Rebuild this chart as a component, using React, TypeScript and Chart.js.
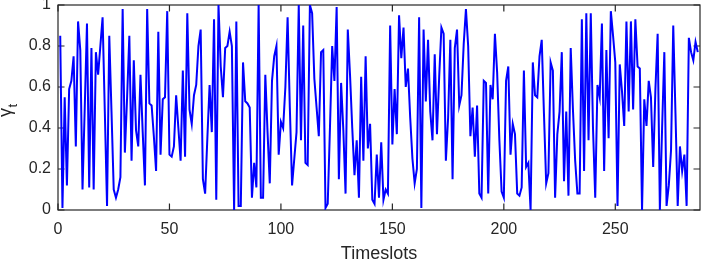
import React, { useEffect, useRef } from "react";
import { Chart, registerables } from "chart.js";

Chart.register(...registerables);

// gamma_t value per timeslot (timeslots 1..287)
const gammaT: number[] = [
  0.85, 0.01, 0.55, 0.12, 0.59, 0.63, 0.75, 0.31, 0.92, 0.78,
  0.10, 0.50, 0.91, 0.11, 0.79, 0.10, 0.77, 0.66, 0.80, 0.94,
  0.48, 0.02, 0.85, 0.48, 0.10, 0.06, 0.10, 0.16, 0.98, 0.28,
  0.55, 0.85, 0.24, 0.73, 0.39, 0.31, 0.66, 0.38, 0.12, 0.98,
  0.52, 0.51, 0.36, 0.19, 0.87, 0.27, 0.54, 0.55, 0.97, 0.27,
  0.26, 0.31, 0.56, 0.40, 0.24, 0.68, 0.26, 0.96, 0.49, 0.42,
  0.56, 0.61, 0.80, 0.88, 0.15, 0.08, 0.35, 0.61, 0.38, 0.93,
  0.05, 1.00, 0.70, 0.55, 0.79, 0.80, 0.87, 0.80, 0.00, 0.92,
  0.02, 0.02, 0.72, 0.53, 0.52, 0.50, 0.06, 0.23, 0.11, 1.00,
  0.06, 0.06, 0.66, 0.38, 0.13, 0.63, 0.75, 0.80, 0.27, 0.43,
  0.40, 0.60, 0.94, 0.50, 0.12, 0.25, 0.38, 1.00, 0.34, 0.90,
  0.23, 0.22, 1.00, 0.96, 0.64, 0.50, 0.36, 0.77, 0.78, 0.01,
  0.03, 0.40, 0.80, 0.63, 0.99, 0.15, 0.62, 0.39, 0.08, 0.88,
  0.66, 0.40, 0.17, 0.34, 0.06, 0.65, 0.24, 0.75, 0.30, 0.42,
  0.05, 0.03, 0.27, 0.06, 0.33, 0.05, 0.10, 0.08, 0.90, 0.32,
  0.59, 0.37, 0.95, 0.74, 0.89, 0.60, 0.69, 0.45, 0.25, 0.13,
  0.20, 0.94, 0.01, 0.88, 0.53, 0.83, 0.48, 0.34, 0.76, 0.37,
  0.65, 0.89, 0.86, 0.24, 0.45, 0.83, 0.15, 0.79, 0.88, 0.51,
  0.56, 0.81, 0.98, 0.80, 0.36, 0.50, 0.26, 0.51, 0.08, 0.06,
  0.63, 0.62, 0.08, 0.61, 0.54, 0.86, 0.67, 0.34, 0.09, 0.06,
  0.63, 0.70, 0.27, 0.42, 0.37, 0.08, 0.07, 0.11, 0.68, 0.21,
  0.23, 0.00, 0.72, 0.56, 0.55, 0.75, 0.83, 0.47, 0.13, 0.18,
  0.72, 0.68, 0.06, 0.37, 0.48, 0.77, 0.14, 0.48, 0.07, 0.79,
  0.49, 0.24, 0.08, 0.08, 0.93, 0.19, 0.96, 0.34, 0.96, 0.40,
  0.06, 0.61, 0.55, 0.91, 0.19, 0.78, 0.35, 0.97, 0.85, 0.72,
  0.02, 0.71, 0.58, 0.41, 0.92, 0.48, 0.92, 0.49, 0.93, 0.70,
  0.69, 0.00, 0.54, 0.41, 0.63, 0.55, 0.21, 0.59, 0.86, 0.00,
  0.40, 0.77, 0.02, 0.12, 0.29, 0.90, 0.47, 0.02, 0.31, 0.19,
  0.27, 0.02, 0.84, 0.77, 0.73, 0.82, 0.77,
];

const timeslots: number[] = gammaT.map((_, i) => i + 1);
const xTicks: number[] = [0, 50, 100, 150, 200, 250];
const yTicks: number[] = [0, 0.2, 0.4, 0.6, 0.8, 1];
const xRange: number[] = [0, 288];
const yRange: number[] = [0, 1];
const xLabel = "Timeslots";
const yLabelMain = "γ";
const yLabelSub = "t";

const FONT = "'Liberation Sans', Arial, Helvetica, sans-serif";
const AXIS_COLOR = "#262626";

const fmt = (v: any) => String(Math.round(Number(v) * 10) / 10);

const matlabAxes = {
  id: "matlabAxes",
  beforeDatasetsDraw(chart: any) {
    const { ctx, chartArea, scales } = chart;
    const { left, right, top, bottom } = chartArea;
    const L = 6.5;
    ctx.save();
    ctx.strokeStyle = AXIS_COLOR;
    ctx.lineWidth = 1.2;
    ctx.strokeRect(left, top, right - left, bottom - top);
    ctx.beginPath();
    xTicks.forEach((v) => {
      const px = scales.x.getPixelForValue(v);
      ctx.moveTo(px, bottom);
      ctx.lineTo(px, bottom - L);
      ctx.moveTo(px, top);
      ctx.lineTo(px, top + L);
    });
    yTicks.forEach((v) => {
      const py = scales.y.getPixelForValue(v);
      ctx.moveTo(left, py);
      ctx.lineTo(left + L, py);
      ctx.moveTo(right, py);
      ctx.lineTo(right - L, py);
    });
    ctx.stroke();
    ctx.restore();
  },
  afterDraw(chart: any) {
    const { ctx } = chart;
    ctx.save();
    ctx.fillStyle = AXIS_COLOR;
    ctx.translate(11, 117);
    ctx.rotate(-Math.PI / 2);
    ctx.textAlign = "left";
    ctx.textBaseline = "alphabetic";
    ctx.font = `18px ${FONT}`;
    ctx.fillText(yLabelMain, 0, 0);
    const w = ctx.measureText(yLabelMain).width;
    ctx.font = `13px ${FONT}`;
    ctx.fillText(yLabelSub, w + 0.5, 6);
    ctx.restore();
  },
};

export default function App() {
  const canvasRef = useRef<HTMLCanvasElement | null>(null);

  useEffect(() => {
    const canvas = canvasRef.current;
    if (!canvas) return;
    const chart = new Chart(canvas, {
      type: "line",
      data: {
        datasets: [
          {
            data: timeslots.map((t, i) => ({ x: t, y: gammaT[i] })),
            borderColor: "#0000ff",
            backgroundColor: "#0000ff",
            borderWidth: 2,
            pointRadius: 0,
            tension: 0,
            fill: false,
          },
        ],
      },
      options: {
        responsive: false,
        animation: false,
        devicePixelRatio: 1,
        layout: { padding: { top: 5, right: 6, left: 0, bottom: 0 } },
        plugins: { legend: { display: false }, tooltip: { enabled: false } },
        scales: {
          x: {
            type: "linear",
            min: xRange[0],
            max: xRange[1],
            grid: { display: false, drawTicks: false },
            border: { display: false },
            afterBuildTicks: (s: any) => {
              s.ticks = xTicks.map((v) => ({ value: v }));
            },
            afterFit: (s: any) => {
              s.height = 54;
              s.paddingLeft = 0;
              s.paddingRight = 0;
            },
            ticks: {
              padding: 10,
              color: AXIS_COLOR,
              font: { family: FONT, size: 16 },
              maxRotation: 0,
              autoSkip: false,
              callback: (v: any) => String(v),
            },
            title: {
              display: true,
              text: xLabel,
              color: AXIS_COLOR,
              font: { family: FONT, size: 18, lineHeight: 1.1 },
              padding: { top: 0, bottom: 0 },
            },
          },
          y: {
            type: "linear",
            min: yRange[0],
            max: yRange[1],
            grid: { display: false, drawTicks: false },
            border: { display: false },
            afterBuildTicks: (s: any) => {
              s.ticks = yTicks.map((v) => ({ value: v }));
            },
            afterFit: (s: any) => {
              s.width = 58;
              s.paddingTop = 0;
              s.paddingBottom = 0;
            },
            ticks: {
              padding: 7,
              color: AXIS_COLOR,
              font: { family: FONT, size: 16 },
              autoSkip: false,
              callback: fmt,
            },
          },
        },
      },
      plugins: [matlabAxes],
    });
    return () => chart.destroy();
  }, []);

  return (
    <div style={{ position: "absolute", left: 0, top: 0, width: 706, height: 264 }}>
      <canvas ref={canvasRef} width={706} height={264} style={{ width: 706, height: 264 }} />
    </div>
  );
}
